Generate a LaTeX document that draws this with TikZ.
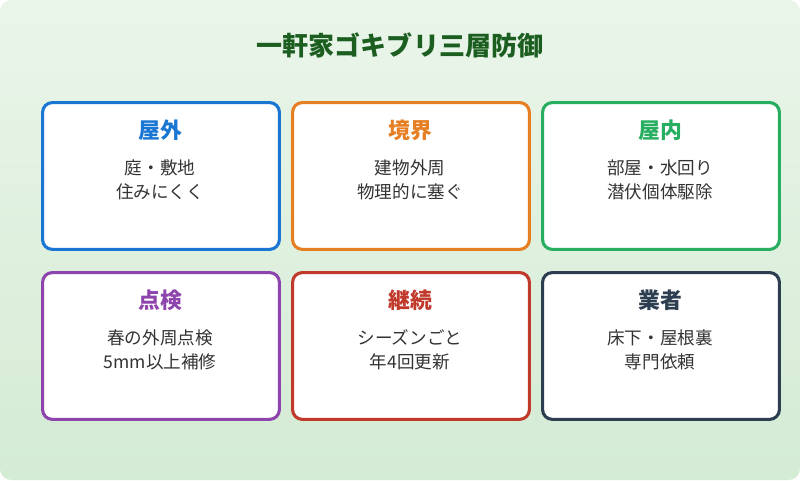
\documentclass[tikz,border=0pt]{standalone}
\usepackage{fontspec}
\setmainfont{Noto Sans CJK JP}
\usetikzlibrary{positioning}
\definecolor{cblue}{HTML}{1976D2}
\definecolor{corange}{HTML}{E67E22}
\definecolor{cgreen}{HTML}{27AE60}
\definecolor{cpurple}{HTML}{8E44AD}
\definecolor{cred}{HTML}{C0392B}
\definecolor{cdark}{HTML}{2C3E50}
\definecolor{ctitle}{HTML}{1B5E20}
\definecolor{bgtop}{HTML}{EAF5EA}
\definecolor{bgbot}{HTML}{D4EBD4}
\definecolor{ctext}{HTML}{333333}

\begin{document}
\begin{tikzpicture}[x=0.025cm, y=-0.025cm,
	layerbox/.style={draw, fill=white, line width=2.2pt, rounded corners=7pt, minimum width=5.92cm, minimum height=3.67cm, anchor=north west},
	headtext/.style={font=\fontsize{15.5}{18}\selectfont\bfseries},
	bodytext/.style={font=\fontsize{12.5}{17}\selectfont, text=ctext, align=center}]

\shade[top color=bgtop, bottom color=bgbot, rounded corners=8pt] (0,0) rectangle (800,480);
\useasboundingbox (0,0) rectangle (800,480);

\node[font=\fontsize{18.5}{20}\selectfont\bfseries, text=ctitle] (title) at (400,45) {一軒家ゴキブリ三層防御};

\node[layerbox, draw=cblue] (outside) at (41,101) {};
\node[layerbox, draw=corange] (border) at (291,101) {};
\node[layerbox, draw=cgreen] (inside) at (541,101) {};
\node[layerbox, draw=cpurple] (check) at (41,271) {};
\node[layerbox, draw=cred] (keep) at (291,271) {};
\node[layerbox, draw=cdark] (pro) at (541,271) {};

\node[headtext, text=cblue] at (160,130) {屋外};
\node[bodytext] at (160,180) {庭・敷地\\住みにくく};
\node[headtext, text=corange] at (410,130) {境界};
\node[bodytext] at (410,180) {建物外周\\物理的に塞ぐ};
\node[headtext, text=cgreen] at (660,130) {屋内};
\node[bodytext] at (660,180) {部屋・水回り\\潜伏個体駆除};
\node[headtext, text=cpurple] at (160,300) {点検};
\node[bodytext] at (160,350) {春の外周点検\\5mm以上補修};
\node[headtext, text=cred] at (410,300) {継続};
\node[bodytext] at (410,350) {シーズンごと\\年4回更新};
\node[headtext, text=cdark] at (660,300) {業者};
\node[bodytext] at (660,350) {床下・屋根裏\\専門依頼};
\end{tikzpicture}
\end{document}
